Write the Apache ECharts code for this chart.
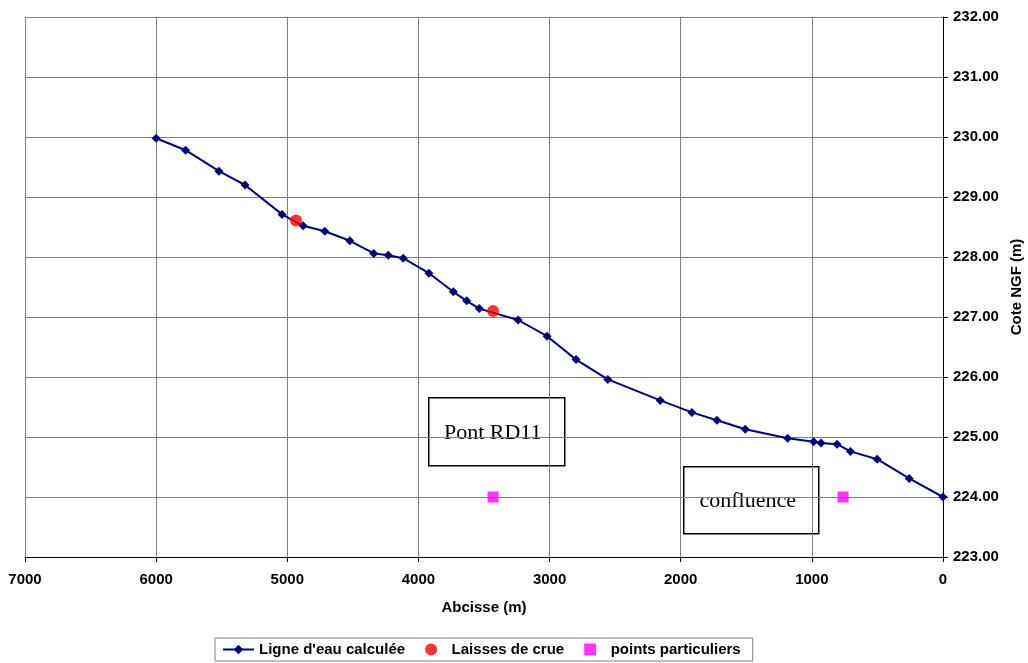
<!DOCTYPE html>
<html>
<head>
<meta charset="utf-8">
<script src="https://cdn.jsdelivr.net/npm/echarts@6/dist/echarts.min.js"></script>
<style>
  html, body { margin: 0; padding: 0; background: #fff; }
  #chart { width: 1028px; height: 663px; }
</style>
</head>
<body>
<div id="chart"></div>
<script>
// ligne d'eau calculée
const abscisses = [6000, 5775, 5521, 5322, 5040, 4879, 4714, 4523, 4340, 4230, 4116, 3920,
  3734, 3632, 3536, 3240, 3019, 2798, 2556, 2156, 1915, 1724, 1508, 1185, 986, 930, 808,
  706, 502, 258, 0];
const cotes = [229.98, 229.78, 229.43, 229.20, 228.71, 228.52, 228.43, 228.27, 228.06, 228.03, 227.98, 227.73,
  227.42, 227.27, 227.14, 226.95, 226.68, 226.29, 225.96, 225.61, 225.41, 225.28, 225.13, 224.98, 224.92, 224.90, 224.88,
  224.76, 224.63, 224.31, 224.00];
// laisses de crue
const laissesX = [4933, 3431];
const laissesY = [228.61, 227.10];
// points particuliers
const pointsX = [3431, 762];
const pointsY = [224.00, 224.00];

const zip = (xs, ys) => xs.map((x, i) => [x, ys[i]]);

const chart = echarts.init(document.getElementById('chart'));
const labelFont = { fontFamily: 'Liberation Sans', fontWeight: 'bold', fontSize: 15, color: '#000' };

chart.setOption({
  animation: false,
  backgroundColor: '#fff',
  grid: { left: 25, right: 85, top: 17, bottom: 106, outerBoundsMode: 'none' },
  xAxis: {
    type: 'value',
    inverse: true,
    min: 0, max: 7000, interval: 1000,
    name: 'Abcisse (m)',
    nameLocation: 'middle',
    nameGap: 43,
    nameTextStyle: labelFont,
    axisLine: { lineStyle: { color: '#000', width: 1 } },
    axisTick: { show: true, length: 5, lineStyle: { color: '#000' } },
    axisLabel: Object.assign({ margin: 15, formatter: v => String(v) }, labelFont),
    splitLine: { show: true, lineStyle: { color: '#808080', width: 1 } }
  },
  yAxis: {
    type: 'value',
    position: 'right',
    min: 223, max: 232, interval: 1,
    name: 'Cote NGF (m)',
    nameLocation: 'middle',
    nameRotate: 90,
    nameGap: 61,
    nameTextStyle: labelFont,
    axisLine: { show: true, lineStyle: { color: '#000', width: 1 } },
    axisTick: { show: true, length: 5, lineStyle: { color: '#000' } },
    axisLabel: Object.assign({ margin: 10, formatter: v => v.toFixed(2) }, labelFont),
    splitLine: { show: true, lineStyle: { color: '#808080', width: 1 } }
  },
  legend: {
    left: 215, top: 638,
    padding: [4, 12, 4, 7],
    itemGap: 20,
    itemWidth: 31,
    itemHeight: 12,
    borderColor: '#808080',
    borderWidth: 1,
    textStyle: { fontFamily: 'Liberation Sans', fontWeight: 'bold', fontSize: 15, color: '#000' },
    data: [
      "Ligne d'eau calculée",
      { name: 'Laisses de crue', icon: 'circle' },
      { name: 'points particuliers', icon: 'path://M0,0L10,0L10,10L0,10Z' }
    ]
  },
  series: [
    {
      name: "Ligne d'eau calculée",
      type: 'line',
      data: zip(abscisses, cotes),
      symbol: 'diamond',
      symbolSize: 9,
      lineStyle: { color: '#000080', width: 2 },
      itemStyle: { color: '#000080' },
      z: 3
    },
    {
      name: 'Laisses de crue',
      type: 'scatter',
      data: zip(laissesX, laissesY),
      symbol: 'circle',
      symbolSize: 12,
      itemStyle: { color: '#ff0000' },
      z: 4
    },
    {
      name: 'points particuliers',
      type: 'scatter',
      data: zip(pointsX, pointsY),
      symbol: 'rect',
      symbolSize: 11,
      itemStyle: { color: '#ff00ff' },
      z: 4
    }
  ],
  graphic: [
    {
      type: 'group', left: 428, top: 397, z: 10,
      children: [
        { type: 'rect', shape: { x: 0, y: 0, width: 136, height: 68 },
          style: { fill: '#fff', stroke: '#000', lineWidth: 1.5 } },
        { type: 'text', x: 64, y: 35,
          style: { text: 'Pont RD11', font: '22px "Liberation Serif"', fill: '#000', align: 'center', verticalAlign: 'middle' } }
      ]
    },
    {
      type: 'group', left: 683, top: 466, z: 10,
      children: [
        { type: 'rect', shape: { x: 0, y: 0, width: 135, height: 67 },
          style: { fill: '#fff', stroke: '#000', lineWidth: 1.5 } },
        { type: 'text', x: 64, y: 34,
          style: { text: 'confluence', font: '22px "Liberation Serif"', fill: '#000', align: 'center', verticalAlign: 'middle' } }
      ]
    }
  ]
});
</script>
</body>
</html>
